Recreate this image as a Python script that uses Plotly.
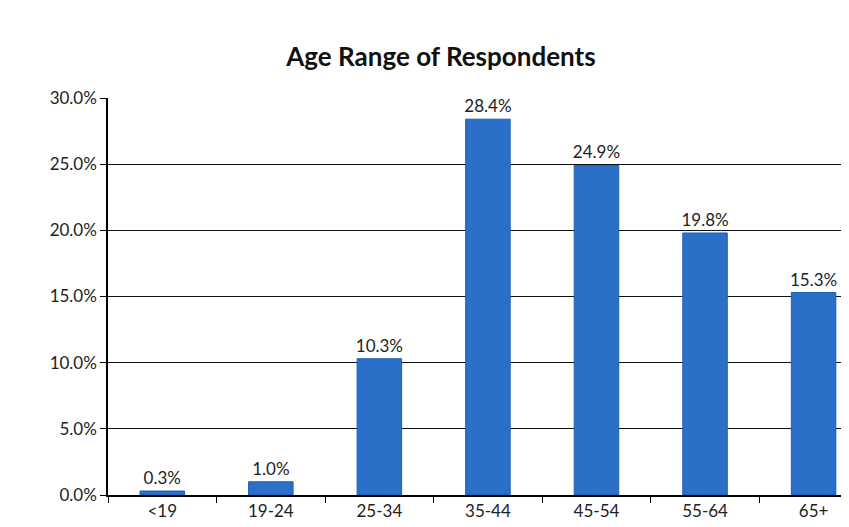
import plotly.graph_objects as go

# Age range of survey respondents (share of respondents, %)
age_ranges = ["<19", "19-24", "25-34", "35-44", "45-54", "55-64", "65+"]
share_pct = [0.3, 1.0, 10.3, 28.4, 24.9, 19.8, 15.3]
y_ticks = [0, 5, 10, 15, 20, 25, 30]
y_tick_labels = ["0.0%", "5.0%", "10.0%", "15.0%", "20.0%", "25.0%", "30.0%"]

fig = go.Figure()

fig.add_trace(
    go.Bar(
        x=age_ranges,
        y=share_pct,
        width=0.41,
        marker=dict(color="#2A6FC8", line=dict(color="#1F5FB0", width=1)),
        texttemplate="%{y:.1f}%",
        textposition="outside",
        constraintext="none",
        textfont=dict(size=17, color="#222222"),
        cliponaxis=False,
    )
)

fig.update_layout(
    title=dict(
        text="<b>Age Range of Respondents</b>",
        x=0.51,
        xanchor="center",
        y=0.925,
        font=dict(family="Lato, Open Sans, sans-serif", size=26, color="#111111"),
    ),
    width=849,
    height=527,
    margin=dict(l=100, r=0, t=90, b=40),
    paper_bgcolor="white",
    plot_bgcolor="white",
    font=dict(family="Lato, Open Sans, sans-serif", size=17, color="#222222"),
    showlegend=False,
)

fig.update_xaxes(
    range=[-0.5, 6.4],
    showline=True,
    linecolor="black",
    linewidth=1.5,
    ticks="outside",
    tickson="boundaries",
    ticklen=6,
    tickcolor="black",
    showgrid=False,
)

fig.update_yaxes(
    range=[0, 30],
    tickvals=y_ticks,
    ticktext=y_tick_labels,
    showline=True,
    linecolor="black",
    linewidth=1.5,
    ticks="outside",
    ticklen=6,
    tickcolor="black",
    showgrid=True,
    gridcolor="#111111",
    gridwidth=1.2,
    zeroline=False,
)

fig.write_html("out.html")
